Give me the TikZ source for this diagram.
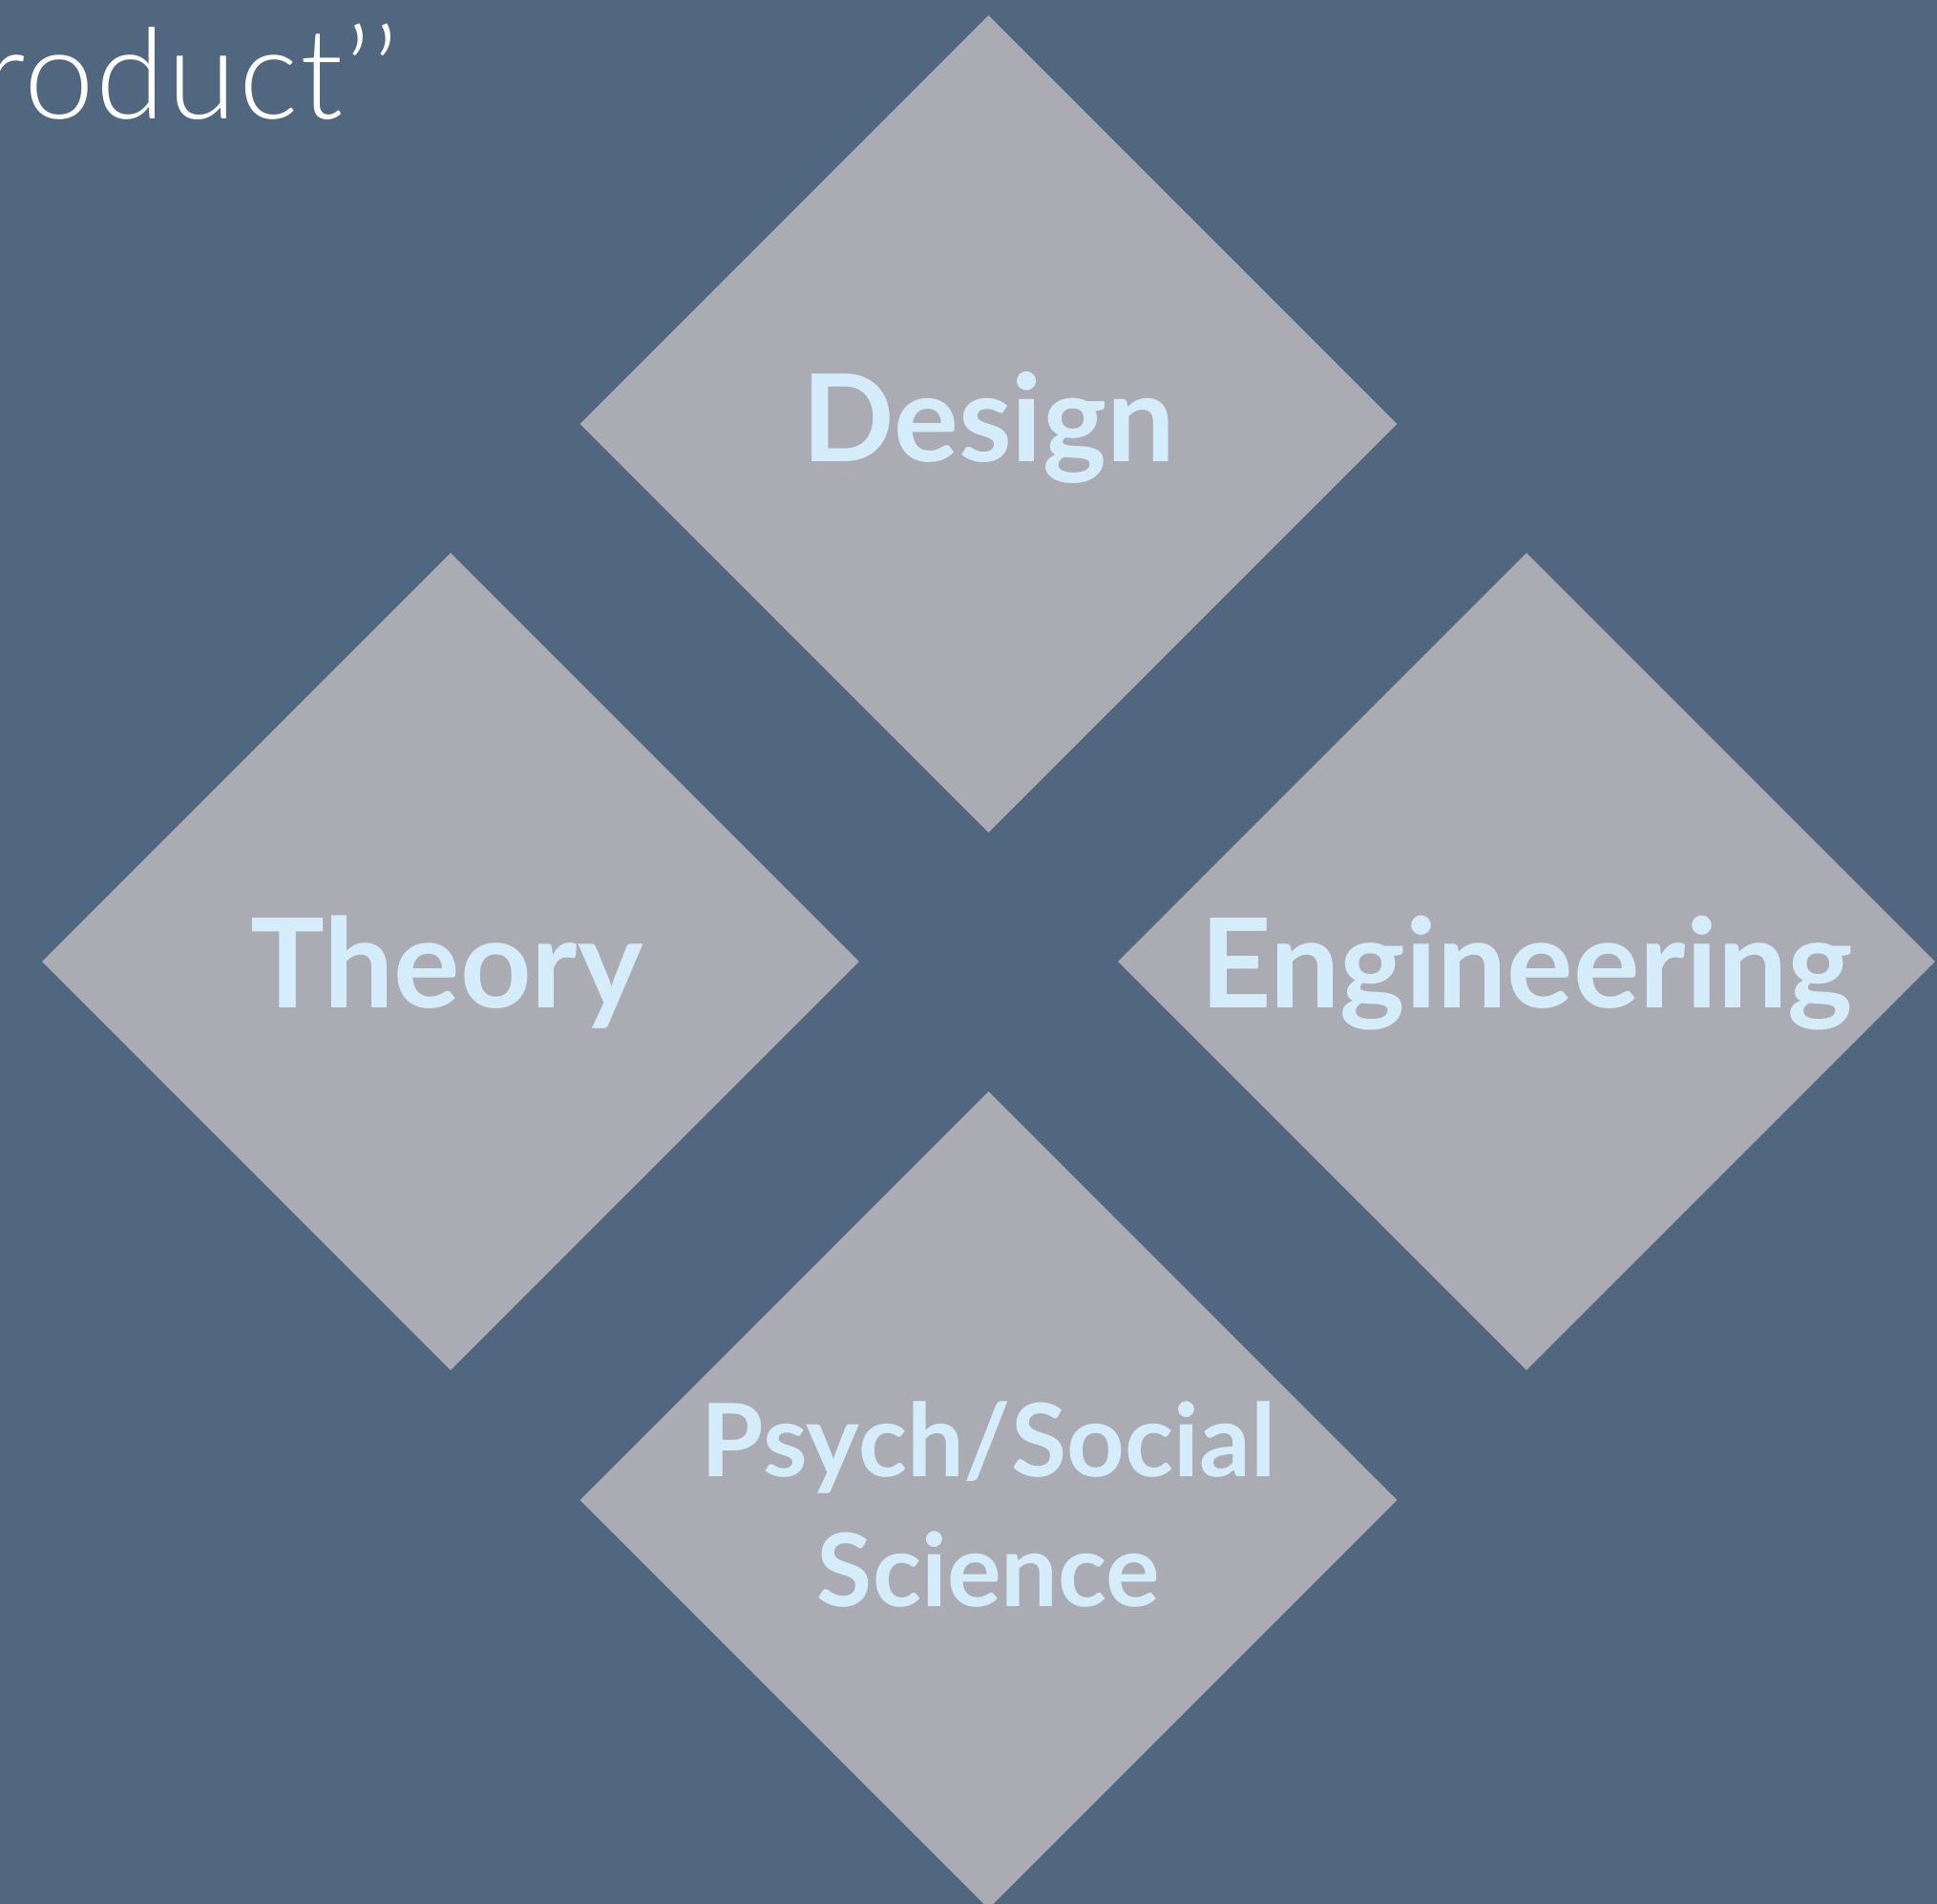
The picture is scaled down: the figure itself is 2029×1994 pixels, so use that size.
\documentclass[tikz,border=0pt]{standalone}
\usepackage{fontspec}
\setmainfont{Lato}
\newfontfamily\lightfont[LetterSpace=1.5]{Lato Light}
\usetikzlibrary{shapes.geometric}
\definecolor{bgblue}{HTML}{51677F}
\definecolor{dmgray}{HTML}{ABABB4}
\definecolor{lbltxt}{HTML}{D5EDFB}
\begin{document}
\begin{tikzpicture}[x=1bp,y=-1bp,
  dmd/.style={diamond, aspect=1, fill=dmgray, draw=none, inner sep=0pt,
    minimum width=856bp, minimum height=856bp},
  lbl/.style={text=lbltxt, font=\bfseries\fontsize{127bp}{150bp}\selectfont, anchor=base, inner sep=0pt},
  lblbig/.style={lbl, font=\bfseries\fontsize{130bp}{150bp}\selectfont},
  lblsm/.style={text=lbltxt, font=\bfseries\fontsize{106bp}{136bp}\selectfont, inner sep=0pt, align=center}]
\fill[bgblue] (0,0) rectangle (2029,1994);
\useasboundingbox (0,0) rectangle (2029,1994);
\node[text=white, font=\lightfont\fontsize{132bp}{150bp}\selectfont, anchor=base west, inner sep=0pt] (title) at (-20,124) {roduct’’};
\node[dmd] (design) at (1035.5,444) {};
\node[dmd] (theory) at (472,1007) {};
\node[dmd] (eng) at (1599,1007) {};
\node[dmd] (psych) at (1035.5,1571) {};
\node[lbl] (tdesign) at (1035.5,483) {Design};
\node[lblbig] (ttheory) at (468,1055) {Theory};
\node[lblbig] (teng) at (1599,1055) {Engineering};
\node[lblsm, anchor=base] (tpsych1) at (1035.5,1546) {Psych/Social};
\node[lblsm, anchor=base] (tpsych2) at (1035.5,1682) {Science};
\end{tikzpicture}
\end{document}
